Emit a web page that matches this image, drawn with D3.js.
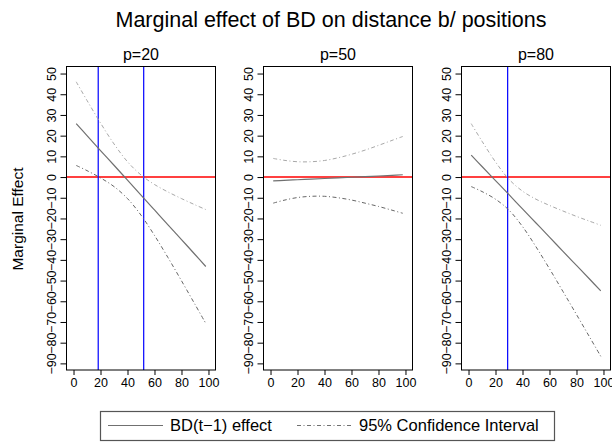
<!DOCTYPE html>
<html>
<head>
<meta charset="utf-8">
<script src="https://cdn.jsdelivr.net/npm/d3@7"></script>
<style>
  html, body { margin: 0; padding: 0; background: #fff; }
  svg { display: block; font-family: "Liberation Sans", Arial, Helvetica, sans-serif; }
</style>
</head>
<body>
<svg id="chart" width="612" height="442"></svg>
<script>
// Evaluation points for the moderator (x axis)
const xs = [2, 10, 20, 30, 40, 50, 60, 70, 80, 90, 98];

// Panel labels
const panelTitles = ["p=20", "p=50", "p=80"];

// Marginal effect of BD(t-1) and its 95% confidence band, per panel
const effect20 = [25.8, 20.0, 12.8, 5.7, -1.5, -8.7, -15.9, -23.1, -30.2, -37.4, -43.2];
const upper20  = [46.0, 37.0, 26.1, 16.0, 7.4, 1.0, -3.6, -7.2, -10.4, -13.4, -15.7];
const lower20  = [5.6, 3.1, -0.4, -4.6, -10.4, -18.4, -28.2, -38.9, -50.1, -61.5, -70.7];

const effect50 = [-1.8, -1.6, -1.3, -1.0, -0.7, -0.4, -0.1, 0.2, 0.5, 0.8, 1.1];
const upper50  = [9.0, 8.1, 7.4, 7.4, 8.0, 9.3, 11.0, 13.0, 15.3, 17.7, 19.6];
const lower50  = [-12.6, -11.2, -9.9, -9.3, -9.3, -10.0, -11.1, -12.6, -14.2, -16.0, -17.5];

const effect80 = [10.6, 5.1, -1.7, -8.5, -15.4, -22.2, -29.0, -35.9, -42.7, -49.5, -55.0];
const upper80  = [25.8, 17.3, 7.3, -1.1, -6.8, -10.7, -13.7, -16.4, -19.0, -21.4, -23.3];
const lower80  = [-4.6, -7.0, -10.7, -16.0, -23.9, -33.7, -44.3, -55.3, -66.4, -77.6, -86.6];

// Where the confidence band crosses zero
const crossings20 = [18.3, 52];
const crossings50 = [];
const crossings80 = [29];

// Axis ticks
const yTicks = [-90, -80, -70, -60, -50, -40, -30, -20, -10, 0, 10, 20, 30, 40, 50];
const xTicks = [0, 20, 40, 60, 80, 100];

const panels = [
  { title: panelTitles[0], effect: effect20, upper: upper20, lower: lower20, vlines: crossings20 },
  { title: panelTitles[1], effect: effect50, upper: upper50, lower: lower50, vlines: crossings50 },
  { title: panelTitles[2], effect: effect80, upper: upper80, lower: lower80, vlines: crossings80 }
];

const svg = d3.select("#chart");
const fmt = d3.format("");

// Layout
const panelLefts = [66.5, 263.5, 461.5];
const panelW = 149;
const plotTop = 66.5, plotBottom = 370;
const xDomain = [-5.2, 105.2];
const yDomain = [-93.2, 53.4];

// Overall title
svg.append("text")
  .attr("x", 331).attr("y", 27)
  .attr("text-anchor", "middle")
  .attr("font-size", 21.5)
  .attr("fill", "#000")
  .text("Marginal effect of BD on distance b/ positions");

// Y axis title
svg.append("text")
  .attr("transform", "translate(23,219) rotate(-90)")
  .attr("text-anchor", "middle")
  .attr("font-size", 15.5)
  .attr("fill", "#000")
  .text("Marginal Effect");

const y = d3.scaleLinear().domain(yDomain).range([plotBottom, plotTop]);

panels.forEach((p, i) => {
  const left = panelLefts[i];
  const x = d3.scaleLinear().domain(xDomain).range([left, left + panelW]);
  const g = svg.append("g");

  // panel title
  g.append("text")
    .attr("x", left + panelW / 2).attr("y", 60)
    .attr("text-anchor", "middle")
    .attr("font-size", 16)
    .attr("fill", "#000")
    .text(p.title);

  // zero reference line
  g.append("line")
    .attr("x1", left).attr("x2", left + panelW)
    .attr("y1", y(0)).attr("y2", y(0))
    .attr("stroke", "#ff0000").attr("stroke-width", 1.5);

  // vertical lines where the band crosses zero
  g.selectAll("line.v").data(p.vlines).enter().append("line")
    .attr("class", "v")
    .attr("x1", d => x(d)).attr("x2", d => x(d))
    .attr("y1", plotTop).attr("y2", plotBottom)
    .attr("stroke", "#0000ff").attr("stroke-width", 1.2);

  const line = d3.line()
    .x(d => x(d[0])).y(d => y(d[1]))
    .curve(d3.curveCatmullRom);

  // confidence band limits
  g.append("path")
    .attr("d", line(xs.map((v, k) => [v, p.upper[k]])))
    .attr("fill", "none").attr("stroke", "#a8a8a8").attr("stroke-width", 1)
    .attr("stroke-dasharray", "4,2.5,1,2.5");
  g.append("path")
    .attr("d", line(xs.map((v, k) => [v, p.lower[k]])))
    .attr("fill", "none").attr("stroke", "#666").attr("stroke-width", 1)
    .attr("stroke-dasharray", "4,2.5,1,2.5");

  // marginal effect
  g.append("path")
    .attr("d", line(xs.map((v, k) => [v, p.effect[k]])))
    .attr("fill", "none").attr("stroke", "#707070").attr("stroke-width", 1.2);

  // panel frame
  g.append("rect")
    .attr("x", left).attr("y", plotTop)
    .attr("width", panelW).attr("height", plotBottom - plotTop)
    .attr("fill", "none").attr("stroke", "#000").attr("stroke-width", 1);

  // y axis
  const yAxis = d3.axisLeft(y).tickValues(yTicks).tickSize(6).tickFormat(fmt);
  const ya = g.append("g").attr("transform", `translate(${left},0)`).call(yAxis);
  ya.select(".domain").remove();
  ya.selectAll(".tick line").attr("stroke", "#000");
  ya.selectAll(".tick text")
    .attr("font-size", 12.5)
    .attr("fill", "#000")
    .attr("x", null).attr("dy", null)
    .attr("text-anchor", "middle")
    .attr("transform", "translate(-11,0) rotate(-90)");

  // x axis
  const xAxis = d3.axisBottom(x).tickValues(xTicks).tickSize(5).tickFormat(fmt);
  const xa = g.append("g").attr("transform", `translate(0,${plotBottom})`).call(xAxis);
  xa.select(".domain").remove();
  xa.selectAll(".tick line").attr("stroke", "#000");
  xa.selectAll(".tick text")
    .attr("font-size", 12.5)
    .attr("fill", "#000")
    .attr("y", 17).attr("dy", null);
});

// Legend
const legend = svg.append("g");
legend.append("rect")
  .attr("x", 100.5).attr("y", 411.5)
  .attr("width", 454).attr("height", 29)
  .attr("fill", "#fff").attr("stroke", "#555").attr("stroke-width", 1.2);

const legendItems = [
  { label: "BD(t\u22121) effect", x0: 108, dash: null },
  { label: "95% Confidence Interval", x0: 297, dash: "4,2.5,1,2.5" }
];
legendItems.forEach(it => {
  legend.append("line")
    .attr("x1", it.x0).attr("x2", it.x0 + 55)
    .attr("y1", 425.5).attr("y2", 425.5)
    .attr("stroke", "#707070").attr("stroke-width", 1)
    .attr("stroke-dasharray", it.dash);
  legend.append("text")
    .attr("x", it.x0 + 62).attr("y", 431)
    .attr("font-size", 16.5)
    .attr("fill", "#000")
    .text(it.label);
});
</script>
</body>
</html>
